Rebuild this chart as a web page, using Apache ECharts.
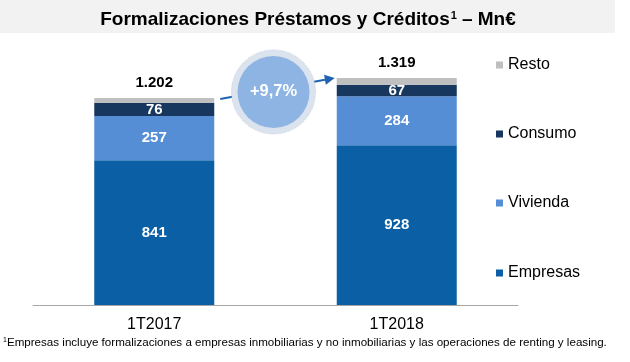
<!DOCTYPE html>
<html>
<head>
<meta charset="utf-8">
<script src="https://cdn.jsdelivr.net/npm/echarts@6/dist/echarts.min.js"></script>
<style>html,body{margin:0;padding:0;background:#fff;}#c{width:630px;height:362px;}</style>
</head>
<body>
<div id="c"></div>
<script>
const categories = ['1T2017', '1T2018'];
const empresas = [841, 928];
const vivienda = [257, 284];
const consumo = [76, 67];
const resto = [28, 40];
const legendOrder = ['Resto', 'Consumo', 'Vivienda', 'Empresas'];
const legendY = [64, 133, 202, 272];
const titleText = 'Formalizaciones Préstamos y Créditos';
const footnoteText = 'Empresas incluye formalizaciones a empresas inmobiliarias y no inmobiliarias y las operaciones de renting y leasing.';

const colors = { Empresas: '#0b5fa5', Vivienda: '#558ed5', Consumo: '#17375e', Resto: '#bfbfbf' };
const FONT = '"Liberation Sans", Arial, sans-serif';

const totals = categories.map((_, i) => empresas[i] + vivienda[i] + consumo[i] + resto[i]);
const fmt = n => String(n).replace(/\B(?=(\d{3})+(?!\d))/g, '.');
const growth = (totals[1] / totals[0] - 1) * 100;
const growthText = '+' + growth.toFixed(1).replace('.', ',') + '%';

const chart = echarts.init(document.getElementById('c'), null, { renderer: 'canvas' });

const inLabel = { show: true, position: 'inside', color: '#fff', fontWeight: 'bold', fontSize: 15, fontFamily: FONT };

function mkSeries(name, data, label) {
  return { name, type: 'bar', stack: 'total', data, barWidth: 120, itemStyle: { color: colors[name] }, label, z: 2 };
}

const option = {
  animation: false,
  backgroundColor: '#fff',
  grid: { left: 33, right: 112, top: 64, bottom: 57 },
  xAxis: {
    type: 'category', data: categories,
    axisLine: { lineStyle: { color: '#a6a6a6', width: 1 } },
    axisTick: { show: false },
    axisLabel: { color: '#000', fontSize: 16, fontFamily: FONT, margin: 12 }
  },
  yAxis: { type: 'value', min: 0, max: 1400, show: false, splitLine: { show: false } },
  legend: legendOrder.map((n, i) => ({
    data: [n], left: 496, top: legendY[i] - 7, padding: 0,
    itemWidth: 7, itemHeight: 7, icon: 'rect', itemGap: 5,
    textStyle: { fontSize: 16, fontFamily: FONT, color: '#000', padding: [0, 0, 0, 0] },
    selectedMode: false
  })),
  series: [
    mkSeries('Empresas', empresas, inLabel),
    mkSeries('Vivienda', vivienda, inLabel),
    mkSeries('Consumo', consumo, inLabel),
    mkSeries('Resto', resto, {
      show: true, position: 'top', distance: 8, color: '#000', fontWeight: 'bold', fontSize: 15, fontFamily: FONT,
      formatter: p => fmt(totals[p.dataIndex])
    })
  ]
};
chart.setOption(option);

// annotation positions derived from the axes
const p1 = chart.convertToPixel({ seriesIndex: 0 }, [0, totals[0]]);
const p2 = chart.convertToPixel({ seriesIndex: 0 }, [1, totals[1]]);
const half = 60;
const ax = p1[0] + half + 6, ay = p1[1] + 1;
const bx = p2[0] - half - 2, by = p2[1];
const ang = Math.atan2(by - ay, bx - ax);
const hl = 10, hw = 5;
const tip = [bx, by];
const base = [bx - hl * Math.cos(ang), by - hl * Math.sin(ang)];
const left = [base[0] + hw * Math.sin(ang), base[1] - hw * Math.cos(ang)];
const right = [base[0] - hw * Math.sin(ang), base[1] + hw * Math.cos(ang)];
const cx = (p1[0] + p2[0]) / 2 - 2;
const cy = Math.min(p1[1], p2[1]) + 14;

chart.setOption({
  graphic: [
    { type: 'rect', shape: { x: 0, y: 0, width: 615, height: 33 }, style: { fill: '#f2f2f2' }, z: 0 },
    { type: 'text', x: 308, y: 20, z: 10, style: {
      text: '{a|' + titleText + '}{s|1}{a|– Mn€}', align: 'center', verticalAlign: 'middle',
      rich: {
        a: { fontSize: 19, fontWeight: 'bold', fontFamily: FONT, fill: '#000' },
        s: { fontSize: 11, fontWeight: 'bold', fontFamily: FONT, fill: '#000', verticalAlign: 'top', padding: [0, 5, 9, 1] }
      } } },
    { type: 'line', shape: { x1: ax, y1: ay, x2: base[0], y2: base[1] }, style: { stroke: '#1f63b0', lineWidth: 2 }, z: 5 },
    { type: 'polygon', shape: { points: [tip, left, right] }, style: { fill: '#1f63b0' }, z: 5 },
    { type: 'circle', shape: { cx: cx, cy: cy, r: 42 }, style: { fill: '#dbe3ee', stroke: '#c4d0e2', lineWidth: 1, lineDash: [1, 1] }, z: 6 },
    { type: 'circle', shape: { cx: cx, cy: cy, r: 36 }, style: { fill: '#8db4e2' }, z: 7 },
    { type: 'text', x: cx, y: cy, z: 8, style: { text: growthText, align: 'center', verticalAlign: 'middle', fontSize: 16.5, fontWeight: 'bold', fontFamily: FONT, fill: '#fff' } },
    { type: 'text', x: 3, y: 343, z: 10, style: {
      text: '{s|1}{a|' + footnoteText + '}', verticalAlign: 'middle',
      rich: {
        a: { fontSize: 11.6, fontFamily: FONT, fill: '#000' },
        s: { fontSize: 7, fontFamily: FONT, fill: '#000', verticalAlign: 'top', padding: [0, 0, 5, 0] }
      } } }
  ]
});
</script>
</body>
</html>
